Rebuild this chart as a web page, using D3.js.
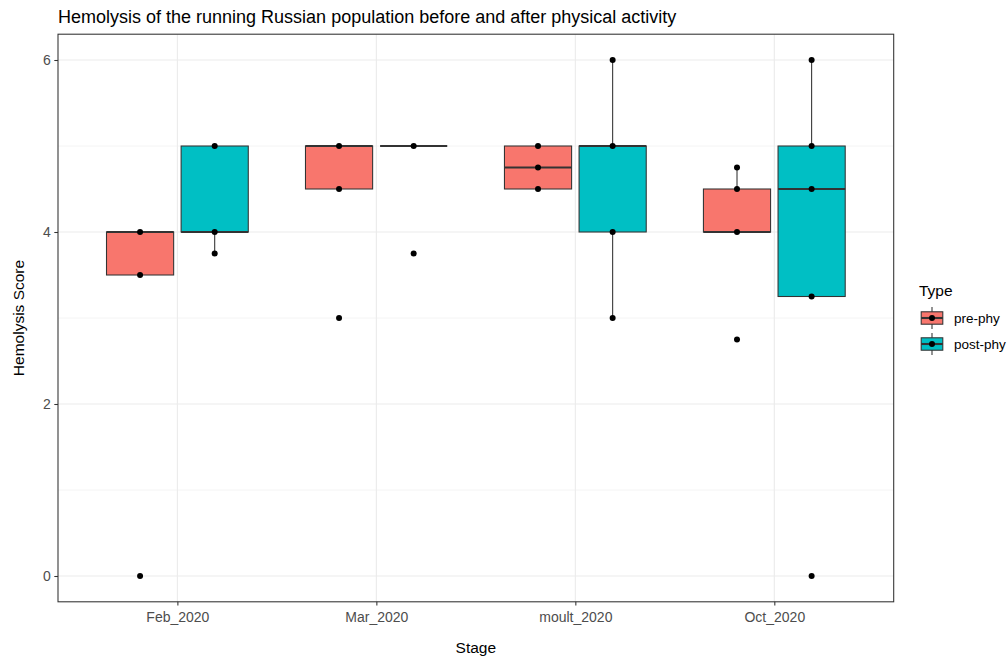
<!DOCTYPE html>
<html>
<head>
<meta charset="utf-8">
<script src="https://cdnjs.cloudflare.com/ajax/libs/d3/7.8.5/d3.min.js"></script>
<style>
  body { margin: 0; background: #fff; }
  svg text { font-family: "Liberation Sans", Arial, sans-serif; }
</style>
</head>
<body>
<div id="chart"></div>
<script>
(function() {

    // stages on the x axis and the two groups dodged inside each stage
    var stages = ["Feb_2020", "Mar_2020", "moult_2020", "Oct_2020"],
        types = ["pre-phy", "post-phy"],
        colors = ["#F8766D", "#00BFC4"]

    // box stats per stage, order: lower whisker, q1, median, q3, upper whisker
    var preBoxes = [
        [3.5, 3.5, 4, 4, 4],
        [4.5, 4.5, 5, 5, 5],
        [4.5, 4.5, 4.75, 5, 5],
        [4, 4, 4, 4.5, 4.75]
    ]
    var postBoxes = [
        [3.75, 4, 4, 5, 5],
        [5, 5, 5, 5, 5],
        [3, 4, 5, 5, 6],
        [3.25, 3.25, 4.5, 5, 6]
    ]

    // observed scores drawn as points on top of the boxes
    var prePoints = [
        [4, 3.5, 0],
        [5, 4.5, 3],
        [5, 4.75, 4.5],
        [4.75, 4.5, 4, 2.75]
    ]
    var postPoints = [
        [5, 4, 3.75],
        [5, 3.75],
        [6, 5, 4, 3],
        [6, 5, 4.5, 3.25, 0]
    ]

    var yTicks = [0, 2, 4, 6],
        yMinor = [1, 3, 5]

    var width = 1008,
        height = 659

    var margin = { top: 34.2, right: 114.3, bottom: 57.2, left: 58 }
    var x0 = margin.left,
        x1 = width - margin.right,
        y0 = margin.top,
        y1 = height - margin.bottom

    var svg = d3.select("#chart")
        .append("svg")
        .attr("width", width)
        .attr("height", height)

    // discrete scale with 0.6 step of expansion each side, like ggplot
    var x = d3.scalePoint()
        .domain(stages)
        .range([x0, x1])
        .padding(0.6)
    var step = x.step()

    var y = d3.scaleLinear()
        .domain([-0.3, 6.3])
        .range([y1, y0])

    var dodge = d3.scaleBand()
        .domain(types)
        .range([-0.375 * step, 0.375 * step])
    var boxW = dodge.bandwidth() * 0.9

    // grid lines
    var grid = svg.append("g")
    grid.selectAll("line.minor")
        .data(yMinor)
        .enter()
        .append("line")
        .attr("x1", x0).attr("x2", x1)
        .attr("y1", function(d) { return y(d); })
        .attr("y2", function(d) { return y(d); })
        .attr("stroke", "#EBEBEB")
        .attr("stroke-width", 0.55)
    grid.selectAll("line.major")
        .data(yTicks)
        .enter()
        .append("line")
        .attr("x1", x0).attr("x2", x1)
        .attr("y1", function(d) { return y(d); })
        .attr("y2", function(d) { return y(d); })
        .attr("stroke", "#EBEBEB")
        .attr("stroke-width", 1.1)
    grid.selectAll("line.vx")
        .data(stages)
        .enter()
        .append("line")
        .attr("y1", y0).attr("y2", y1)
        .attr("x1", function(d) { return x(d); })
        .attr("x2", function(d) { return x(d); })
        .attr("stroke", "#EBEBEB")
        .attr("stroke-width", 1.1)

    // one row per box
    var boxes = []
    stages.forEach(function(s, i) {
        boxes.push({ stage: s, type: types[0], stats: preBoxes[i], points: prePoints[i], color: colors[0] })
        boxes.push({ stage: s, type: types[1], stats: postBoxes[i], points: postPoints[i], color: colors[1] })
    })

    var g = svg.append("g")
        .selectAll("g")
        .data(boxes)
        .enter()
        .append("g")
        .attr("transform", function(d) {
            return "translate(" + (x(d.stage) + dodge(d.type) + dodge.bandwidth() / 2) + ",0)";
        })

    // whiskers
    g.append("line")
        .attr("x1", 0).attr("x2", 0)
        .attr("y1", function(d) { return y(d.stats[4]); })
        .attr("y2", function(d) { return y(d.stats[3]); })
        .attr("stroke", "#333333")
        .attr("stroke-width", 1.07)
    g.append("line")
        .attr("x1", 0).attr("x2", 0)
        .attr("y1", function(d) { return y(d.stats[1]); })
        .attr("y2", function(d) { return y(d.stats[0]); })
        .attr("stroke", "#333333")
        .attr("stroke-width", 1.07)

    g.append("rect")
        .attr("x", -boxW / 2)
        .attr("width", boxW)
        .attr("y", function(d) { return y(d.stats[3]); })
        .attr("height", function(d) { return y(d.stats[1]) - y(d.stats[3]); })
        .attr("fill", function(d) { return d.color; })
        .attr("stroke", "#333333")
        .attr("stroke-width", 1.07)

    g.append("line")
        .attr("x1", -boxW / 2).attr("x2", boxW / 2)
        .attr("y1", function(d) { return y(d.stats[2]); })
        .attr("y2", function(d) { return y(d.stats[2]); })
        .attr("stroke", "#333333")
        .attr("stroke-width", 2.1)

    g.selectAll("circle")
        .data(function(d) { return d.points; })
        .enter()
        .append("circle")
        .attr("cx", 0)
        .attr("cy", function(d) { return y(d); })
        .attr("r", 3)
        .attr("fill", "#000")

    // panel border
    svg.append("rect")
        .attr("x", x0).attr("y", y0)
        .attr("width", x1 - x0).attr("height", y1 - y0)
        .attr("fill", "none")
        .attr("stroke", "#333333")
        .attr("stroke-width", 1.07)

    // axes
    var xAxis = svg.append("g")
        .attr("transform", "translate(0," + y1 + ")")
        .call(d3.axisBottom(x).tickSize(3.7).tickPadding(6.5))
    var yAxis = svg.append("g")
        .attr("transform", "translate(" + x0 + ",0)")
        .call(d3.axisLeft(y).tickValues(yTicks).tickFormat(d3.format("d")).tickSize(3.7).tickPadding(3.5))
    ;[xAxis, yAxis].forEach(function(a) {
        a.select(".domain").remove()
        a.selectAll(".tick line").attr("stroke", "#333333").attr("stroke-width", 1.07)
        a.selectAll(".tick text")
            .attr("fill", "#4D4D4D")
            .style("font-size", "14px")
            .style("font-family", "'Liberation Sans', Arial, sans-serif")
    })

    // titles
    svg.append("text")
        .attr("x", x0)
        .attr("y", 23)
        .style("font-size", "18px")
        .attr("fill", "#000")
        .text("Hemolysis of the running Russian population before and after physical activity")

    svg.append("text")
        .attr("x", (x0 + x1) / 2)
        .attr("y", 653)
        .attr("text-anchor", "middle")
        .style("font-size", "15.5px")
        .text("Stage")

    svg.append("text")
        .attr("transform", "translate(24," + ((y0 + y1) / 2) + ") rotate(-90)")
        .attr("text-anchor", "middle")
        .style("font-size", "15.5px")
        .text("Hemolysis Score")

    // legend
    var legend = svg.append("g")
    legend.append("text")
        .attr("x", 919)
        .attr("y", 296)
        .style("font-size", "15.5px")
        .text("Type")

    var key = legend.selectAll("g.key")
        .data(types)
        .enter()
        .append("g")
        .attr("transform", function(d, i) { return "translate(932," + (318 + i * 26) + ")"; })
    key.append("line")
        .attr("x1", 0).attr("x2", 0)
        .attr("y1", -11).attr("y2", 11)
        .attr("stroke", "#333333")
        .attr("stroke-width", 1.07)
    key.append("rect")
        .attr("x", -10.8).attr("y", -6.2)
        .attr("width", 21.6).attr("height", 12.4)
        .attr("fill", function(d, i) { return colors[i]; })
        .attr("stroke", "#333333")
        .attr("stroke-width", 1.07)
    key.append("line")
        .attr("x1", -10.8).attr("x2", 10.8)
        .attr("y1", 0).attr("y2", 0)
        .attr("stroke", "#333333")
        .attr("stroke-width", 2.1)
    key.append("circle")
        .attr("r", 3)
        .attr("fill", "#000")
    key.append("text")
        .attr("x", 22)
        .attr("y", 4.6)
        .style("font-size", "13.5px")
        .text(function(d) { return d; })

})();
</script>
</body>
</html>
